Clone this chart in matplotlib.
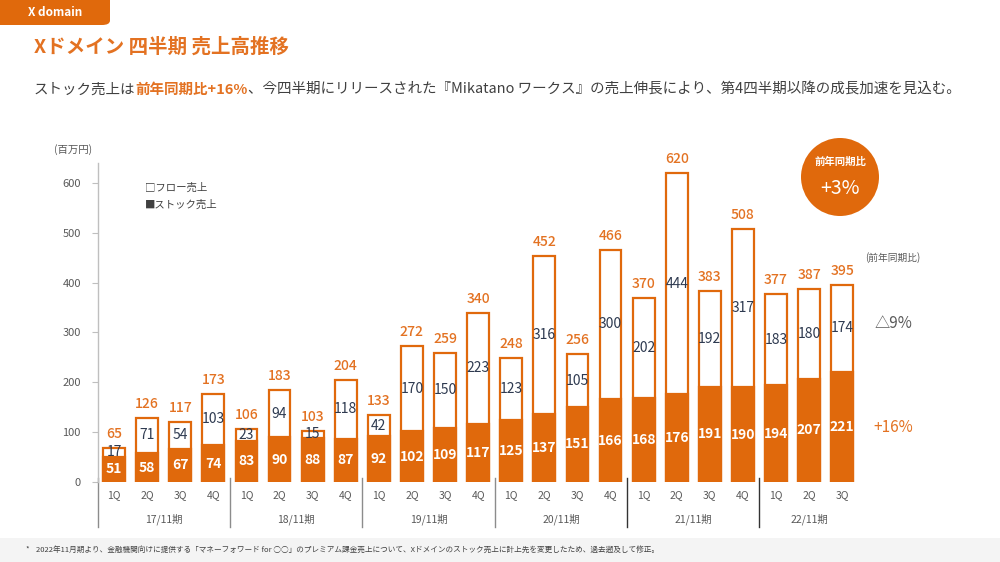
import matplotlib
matplotlib.use('Agg')
import matplotlib.pyplot as plt
from matplotlib.patches import FancyBboxPatch, Circle, Rectangle
from matplotlib.transforms import blended_transform_factory

# ---------------------------------------------------------------------------
# Data (百万円)
# ---------------------------------------------------------------------------
quarters = ['1Q', '2Q', '3Q', '4Q'] * 5 + ['1Q', '2Q', '3Q']
fiscal_years = ['17/11期', '18/11期', '19/11期', '20/11期', '21/11期', '22/11期']
year_sizes = [4, 4, 4, 4, 4, 3]
stock = [51, 58, 67, 74, 83, 90, 88, 87, 92, 102, 109, 117,
         125, 137, 151, 166, 168, 176, 191, 190, 194, 207, 221]
flow = [17, 71, 54, 103, 23, 94, 15, 118, 42, 170, 150, 223,
        123, 316, 105, 300, 202, 444, 192, 317, 183, 180, 174]
totals = [65, 126, 117, 173, 106, 183, 103, 204, 133, 272, 259, 340,
          248, 452, 256, 466, 370, 620, 383, 508, 377, 387, 395]

# ---------------------------------------------------------------------------
# Style
# ---------------------------------------------------------------------------
ORANGE = '#E0690C'
TITLE_ORANGE = '#E37222'
NAVY = '#2E3A50'
GREY = '#595959'
plt.rcParams['font.family'] = ['Noto Sans CJK JP', 'DejaVu Sans']

fig = plt.figure(figsize=(10, 5.62), dpi=100)
W, H = 1000, 562


def fx(px):
    return px / W


def fy(py):
    return 1 - py / H


# header tab
tab = FancyBboxPatch((fx(-10), fy(25)), fx(120), fy(-10) - fy(25),
                     boxstyle='round,pad=0,rounding_size=0.008',
                     transform=fig.transFigure, facecolor=ORANGE, edgecolor='none')
fig.patches.append(tab)
fig.text(fx(28), fy(13), 'X domain', color='white', fontsize=8.5, fontweight='bold',
         va='center', ha='left')

fig.text(fx(34), fy(47), 'Xドメイン 四半期 売上高推移', color=TITLE_ORANGE,
         fontsize=14, fontweight='bold', va='center', ha='left')

# subtitle with mixed styling, scaled to fit the reference width
parts = [('ストック売上は', '#404040', 'normal'),
         ('前年同期比+16%', TITLE_ORANGE, 'bold'),
         ('、今四半期にリリースされた『Mikatano ワークス』の売上伸長により、第4四半期以降の成長加速を見込む。',
          '#404040', 'normal')]
renderer = fig.canvas.get_renderer()
size = 11.5
probe = [fig.text(0, 0, t, fontsize=size, fontweight=w) for t, c, w in parts]
total_w = sum(p.get_window_extent(renderer=renderer).width for p in probe)
for p in probe:
    p.remove()
size = size * 930 / total_w
x = fx(34)
for txt, col, wt in parts:
    t = fig.text(x, fy(90), txt, color=col, fontsize=size, fontweight=wt,
                 va='center', ha='left')
    x += t.get_window_extent(renderer=renderer).width / W

# footer band
fig.patches.append(Rectangle((0, 0), 1, fy(538), transform=fig.transFigure,
                             facecolor='#F4F4F4', edgecolor='none'))
fig.text(fx(26), fy(550), '*', fontsize=5.5, color='#404040', va='center')
fig.text(fx(36), fy(550),
         '2022年11月期より、金融機関向けに提供する「マネーフォワード for ○○」のプレミアム課金売上について、'
         'Xドメインのストック売上に計上先を変更したため、過去遡及して修正。',
         fontsize=5.5, color='#404040', va='center', ha='left')

# ---------------------------------------------------------------------------
# Chart
# ---------------------------------------------------------------------------
ax = fig.add_axes([fx(97.5), fy(482), fx(858.8 - 97.5), fy(163) - fy(482)])
n = len(stock)
idx = list(range(n))
bw = 0.66
ax.bar(idx, [s + f for s, f in zip(stock, flow)], width=bw, color='white',
       edgecolor=ORANGE, linewidth=1.6, zorder=2)
ax.bar(idx, stock, width=bw, color=ORANGE, edgecolor=ORANGE, linewidth=1.6, zorder=3)

for i in idx:
    s, f = stock[i], flow[i]
    ax.text(i, s / 2, str(s), color='white', fontsize=10, fontweight='bold',
            ha='center', va='center', zorder=4)
    ax.text(i, s + f / 2, str(f), color=NAVY, fontsize=10,
            ha='center', va='center', zorder=4)
    ax.annotate(str(totals[i]), (i, s + f), xytext=(0, 5), textcoords='offset points',
                color=TITLE_ORANGE, fontsize=10, fontweight='medium',
                ha='center', va='bottom', zorder=4)

ax.set_xlim(-0.5, 22.5)
ax.set_ylim(0, 640)
ax.set_yticks(range(0, 700, 100))
ax.tick_params(axis='y', colors='#BFBFBF', labelcolor=GREY, labelsize=8, length=4, pad=8)
ax.set_xticks([])
for side in ['top', 'right', 'bottom']:
    ax.spines[side].set_visible(False)
ax.spines['left'].set_color('#BFBFBF')
ax.spines['left'].set_linewidth(1.0)
fig.text(fx(73), fy(150), '(百万円)', fontsize=7.5, color=GREY, ha='center', va='center')

# legend
fig.text(fx(145), fy(188), '□フロー売上', fontsize=7.5, color='#404040', va='center')
fig.text(fx(145), fy(205), '■ストック売上', fontsize=7.5, color='#404040', va='center')

# category axis below
trans = blended_transform_factory(ax.transData, fig.transFigure)
for i, q in enumerate(quarters):
    ax.text(i, fy(495), q, transform=trans, fontsize=7.5, color=GREY,
            ha='center', va='center', clip_on=False)
start = 0
for k, (label, size_k) in enumerate(zip(fiscal_years, year_sizes)):
    col = '#333333' if k >= 4 else '#8C8C8C'
    ax.plot([start - 0.5, start - 0.5], [fy(478), fy(527)], transform=trans,
            color=col, linewidth=1.0, clip_on=False)
    ax.text(start + (size_k - 1) / 2, fy(519), label, transform=trans, fontsize=7.5,
            color=GREY, ha='center', va='center', clip_on=False)
    start += size_k

# YoY badge and notes
fig.patches.append(Circle((8.40, 5.62 - 1.77), 0.39, transform=fig.dpi_scale_trans,
                          facecolor=ORANGE, edgecolor='none'))
fig.text(fx(840), fy(162), '前年同期比', fontsize=7.5, color='white', fontweight='bold',
         ha='center', va='center')
fig.text(fx(840), fy(188), '+3%', fontsize=14, color='white', ha='center', va='center')
fig.text(fx(893), fy(258), '(前年同期比)', fontsize=7, color=GREY, ha='center', va='center')
fig.text(fx(893), fy(323), '△9%', fontsize=11, color=GREY, ha='center', va='center')
fig.text(fx(893), fy(428), '+16%', fontsize=11, color=TITLE_ORANGE, ha='center', va='center')

fig.savefig('out.png', dpi=100)
